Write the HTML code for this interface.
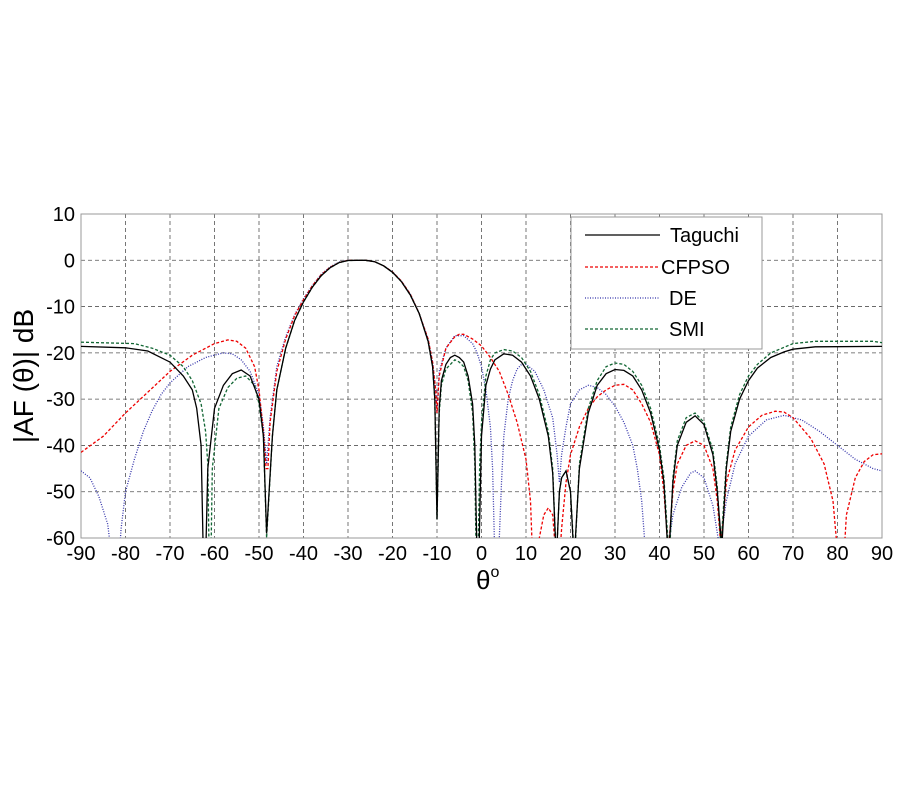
<!DOCTYPE html>
<html><head><meta charset="utf-8"><style>
body{margin:0;background:#fff;}
svg text{font-family:"Liberation Sans",Arial,sans-serif;fill:#000;}
</style></head><body>
<svg id="chart" width="900" height="800" viewBox="0 0 900 800" xmlns="http://www.w3.org/2000/svg">
<defs><clipPath id="clip"><rect x="81" y="214" width="801" height="324"/></clipPath></defs>
<rect x="0" y="0" width="900" height="800" fill="#fff"/>
<g id="grid"></g>
<rect x="81" y="214" width="801" height="324" fill="none" stroke="#999" stroke-width="1"/>
<g id="series" clip-path="url(#clip)"></g>
<g id="ticks"></g>
<text transform="translate(33,376) rotate(-90)" text-anchor="middle" font-size="28">|AF (θ)| dB</text>
<text x="476" y="589" font-size="26">θ<tspan font-size="16" dy="-12">o</tspan></text>
<g>
<rect x="571" y="217" width="191" height="132" fill="#fff" stroke="#999" stroke-width="1"/>
<line x1="585" y1="235" x2="660" y2="235" stroke="#000" stroke-width="1.2"/>
<text x="670" y="242" font-size="20">Taguchi</text>
<line x1="585" y1="267" x2="660" y2="267" stroke="#e00" stroke-width="1.2" stroke-dasharray="3,2"/>
<text x="661" y="274" font-size="20">CFPSO</text>
<line x1="585" y1="298" x2="660" y2="298" stroke="#33a" stroke-width="1.2" stroke-dasharray="1,1.5"/>
<text x="669" y="305" font-size="20">DE</text>
<line x1="585" y1="329" x2="660" y2="329" stroke="#163" stroke-width="1.2" stroke-dasharray="3,2"/>
<text x="669" y="336" font-size="20">SMI</text>
</g>
</svg>
<script>
const xTicks=[-90,-80,-70,-60,-50,-40,-30,-20,-10,0,10,20,30,40,50,60,70,80,90];
const yTicks=[10,0,-10,-20,-30,-40,-50,-60];
const tagTheta=[-90,-80,-75,-70,-67,-65,-64,-63,-62.5,-62,-61.5,-60,-58,-56,-54,-52,-50,-49,-48.3,-47,-46,-44,-42,-40,-38,-36,-34,-32,-30,-28,-26,-24,-22,-20,-18,-16,-14,-12,-11,-10.5,-10,-9.5,-9,-8,-7,-6,-5,-4,-3,-2,-1.5,-1,-0.5,0,1,2,3,5,7,9,11,13,15,16,16.8,17.5,18,19,20,20.8,22,24,26,28,30,32,34,36,38,40,41,42,43,44,46,48,50,52,53,54,55,56,58,60,62,65,68,70,75,90];
const tagDb=[-18.6,-18.9,-19.6,-22,-25,-28,-32,-40,-65,-65,-45,-32,-27,-24.5,-23.7,-25,-30,-38,-59,-38,-28,-19,-13,-9,-5.8,-3.3,-1.6,-0.5,-0.05,0,0,-0.3,-1.2,-2.6,-4.6,-7.5,-11.5,-17.5,-23,-30,-56,-32,-26,-22.5,-21,-20.5,-21,-22,-25,-31,-40,-65,-60,-38,-27,-23.5,-21.5,-20.2,-20.5,-22,-25,-30,-38,-46,-65,-50,-47,-45.5,-50,-65,-45,-33,-27,-24.5,-23.6,-23.8,-25,-28,-33,-41,-48,-65,-48,-40,-35,-33.6,-35.5,-42,-50,-62,-45,-37,-30,-26,-23.3,-21,-19.8,-19.2,-18.7,-18.6];
const smiTheta=[-90,-78,-74,-70,-67,-65,-63,-62,-61.5,-61.2,-60.8,-60.5,-59,-57,-55,-53,-51,-50,-49,-48.3,-47,-46,-44,-42,-40,-38,-36,-34,-32,-30,-28,-26,-24,-22,-20,-18,-16,-14,-12,-11,-10.5,-10,-9.5,-9,-8,-6,-5,-4,-3,-2,-1.5,-1.2,-0.8,-0.4,0,1,2,3,5,7,9,11,13,15,16,16.8,17.5,18,19,20,20.9,22,24,26,28,30,32,34,36,38,40,41,42.2,43,44,46,48,50,52,53,53.8,55,56,58,60,62,65,68,70,75,88,90];
const smiDb=[-17.7,-18,-19,-20.5,-23,-26,-31,-37,-44,-65,-65,-45,-32,-27.5,-25.5,-25,-27,-31,-38,-60,-38,-28,-19,-13,-9,-5.8,-3.3,-1.6,-0.5,-0.05,0,0,-0.3,-1.2,-2.6,-4.6,-7.5,-11.5,-17.5,-23,-30,-56,-33,-27,-23.5,-21.5,-22,-23,-26,-33,-44,-65,-65,-44,-35,-25,-21.5,-20,-19.3,-19.6,-21,-24,-29,-37,-45,-65,-50,-47,-45.5,-50,-65,-44,-32,-26,-23,-22.2,-22.5,-24,-27,-32,-40,-47,-65,-47,-39,-34,-33,-35,-41,-49,-62,-44,-36,-29,-25,-22.5,-20,-18.8,-18,-17.5,-17.5,-17.8];
const cfTheta=[-90,-85,-80,-75,-70,-65,-60,-57,-55,-53,-51,-50,-49,-48.4,-48,-47.5,-46,-44,-42,-40,-38,-36,-34,-32,-30,-28,-26,-24,-22,-20,-18,-16,-14,-12,-11,-10.3,-10,-9.5,-8,-6,-5,-4,-2,0,2,4,6,8,10,11,11.5,12.5,13,14,15,16,16.8,17.5,18,19,20,22,24,26,28,30,32,34,36,38,40,41,42,43,44,46,48,50,52,53,53.8,55,57,60,63,66,68,70,74,77,79,80,81.5,82,84,86,88,90];
const cfDb=[-41.5,-38,-33,-28.5,-24,-20.5,-18,-17.2,-17.5,-19,-23,-28,-37,-45,-45,-35,-24,-17,-12,-8.5,-5.5,-3.1,-1.5,-0.5,0,0,0,-0.3,-1.2,-2.5,-4.5,-7.3,-11.5,-17,-22,-28,-33,-25,-19,-16.5,-16,-16,-17,-18.5,-21,-24,-29,-35,-43,-52,-65,-65,-60,-55,-53.5,-55,-65,-65,-58,-48,-42,-36,-32,-29.5,-28,-27,-26.8,-28,-31,-35,-42,-50,-63,-50,-44,-40,-39,-40,-45,-52,-62,-48,-41,-36,-33.5,-32.6,-32.8,-34,-38.5,-44,-52,-63,-63,-55,-47,-43.5,-42,-41.8];
const deTheta=[-90,-88,-86,-84,-83,-81.5,-81,-80,-78,-76,-74,-72,-70,-66,-62,-58,-56,-54,-52,-50,-49,-48.3,-47.5,-46,-44,-42,-40,-38,-36,-34,-32,-30,-28,-26,-24,-22,-20,-18,-16,-14,-12,-11,-10.3,-10,-9.5,-8,-6,-4,-2,-1,0,1,2,2.5,3,3.8,4.5,5,6,7,8,9,10,12,14,16,17,17.5,18,19,20,22,24,26,28,30,32,34,35,36,37,40,40.5,42,43,45,47,48,50,52,53.5,55,57,60,64,68,72,76,80,84,88,90];
const deDb=[-45.5,-47,-51,-57,-65,-65,-58,-50,-43,-37,-32.5,-29,-26.5,-23,-21,-20,-20.2,-21.5,-24,-29,-36,-44,-34,-23,-16.5,-11.8,-8.3,-5.4,-3,-1.4,-0.4,0,0,0,-0.3,-1.2,-2.5,-4.5,-7.3,-11.5,-17,-22,-28,-33,-24,-19,-16.3,-16.3,-18,-20,-23,-28,-36,-45,-65,-65,-48,-38,-30,-26,-23.5,-22.5,-22.5,-24,-28,-34,-42,-48,-42,-36,-31,-28,-27,-27.5,-29,-31.5,-35,-40,-45,-52,-65,-65,-62,-62,-55,-49,-46,-45.5,-47,-53,-62,-52,-44,-38,-34.5,-33.5,-34.5,-37,-40,-43,-45,-45.5];
const NS='http://www.w3.org/2000/svg';
const X0=81,X1=882,Y0=214,Y1=538;
function xs(t){return X0+(t+90)/180*(X1-X0);}
function ys(d){return Y0+(10-d)/70*(Y1-Y0);}
const grid=document.getElementById('grid'),ticks=document.getElementById('ticks'),ser=document.getElementById('series');
xTicks.forEach(t=>{
  if(t>-90&&t<90){const l=document.createElementNS(NS,'line');
  
  
  l.setAttribute('x1',xs(t));l.setAttribute('x2',xs(t));l.setAttribute('y1',Y0);l.setAttribute('y2',Y1);
  l.setAttribute('stroke','#555');l.setAttribute('stroke-dasharray','4,3');l.setAttribute('stroke-width','0.8');grid.appendChild(l);}
  const tx=document.createElementNS(NS,'text');
  
  
  tx.setAttribute('x',xs(t));tx.setAttribute('y',560);tx.setAttribute('text-anchor','middle');tx.setAttribute('font-size','20');
  tx.textContent=t;ticks.appendChild(tx);
});
yTicks.forEach(d=>{
  if(d<10&&d>-60){const l=document.createElementNS(NS,'line');
  
  
  l.setAttribute('x1',X0);l.setAttribute('x2',X1);l.setAttribute('y1',ys(d));l.setAttribute('y2',ys(d));
  l.setAttribute('stroke','#555');l.setAttribute('stroke-dasharray','4,3');l.setAttribute('stroke-width','0.8');grid.appendChild(l);}
  const tx=document.createElementNS(NS,'text');
  
  
  tx.setAttribute('x',75);tx.setAttribute('y',ys(d)+7);tx.setAttribute('text-anchor','end');tx.setAttribute('font-size','20');
  tx.textContent=d;ticks.appendChild(tx);
});
function draw(th,db,color,dash,name){
  const p=document.createElementNS(NS,'path');
  
  
  p.setAttribute('d',th.map((t,i)=>(i?'L':'M')+xs(t).toFixed(1)+','+ys(db[i]).toFixed(1)).join(''));
  p.setAttribute('fill','none');p.setAttribute('stroke',color);p.setAttribute('stroke-width','1.3');
  if(dash)p.setAttribute('stroke-dasharray',dash);
  ser.appendChild(p);
}
draw(deTheta,deDb,'#33a','1,1.5','de-line');
draw(cfTheta,cfDb,'#e00','3,2','cfpso-line');
draw(smiTheta,smiDb,'#163','3,2','smi-line');
draw(tagTheta,tagDb,'#000',null,'taguchi-line');
</script>
</body></html>
